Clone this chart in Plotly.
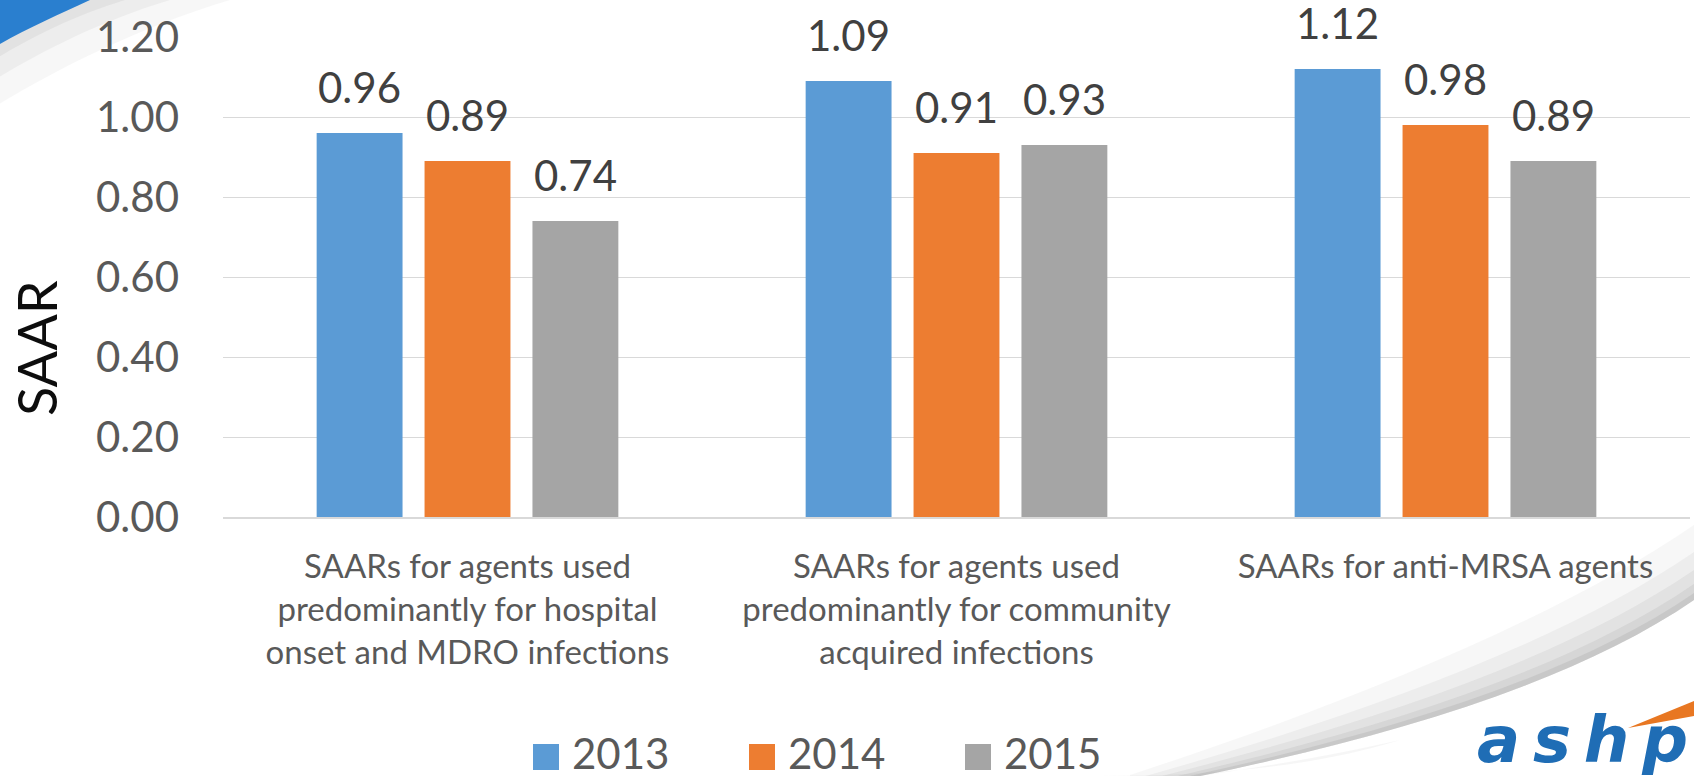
import plotly.graph_objects as go

# ---- data -------------------------------------------------------------
categories = [
    "SAARs for agents used<br>predominantly for hospital<br>onset and MDRO infections",
    "SAARs for agents used<br>predominantly for community<br>acquired infections",
    "SAARs for anti-MRSA agents",
]
years = ["2013", "2014", "2015"]
saar_2013 = [0.96, 1.09, 1.12]
saar_2014 = [0.89, 0.91, 0.98]
saar_2015 = [0.74, 0.93, 0.89]
y_ticks = [0.0, 0.2, 0.4, 0.6, 0.8, 1.0, 1.2]

series = [saar_2013, saar_2014, saar_2015]
colors = ["#5B9BD5", "#ED7D31", "#A5A5A5"]

# ---- geometry (pixels) ------------------------------------------------
W, H = 1694, 776
L, R, T, B = 223, 4, 37, 259
plot_w = W - L - R
plot_h = H - T - B
BARGAP = 0.338
GROUPGAP = 0.204
slot_px = plot_w / len(categories) * (1 - BARGAP) / len(series)

FONT = "Lato"
TXT = "#595959"


def px(x):
    return (x - L) / plot_w


def py(y):
    return (H - B - y) / plot_h


def P(x, y):
    return f"{px(x):.5f},{py(y):.5f}"


fig = go.Figure()
for name, vals, col in zip(years, series, colors):
    fig.add_trace(go.Bar(x=categories, y=vals, name=name, marker_color=col,
                         marker_line_width=0, showlegend=False))

annotations = []
# value labels above each bar
for i, (vals, col) in enumerate(zip(series, colors)):
    for cat, v in zip(categories, vals):
        annotations.append(dict(
            x=cat, y=v, xref="x", yref="y", text=f"{v:.2f}", showarrow=False,
            xanchor="center", yanchor="bottom", xshift=(i - 1) * slot_px, yshift=20,
            borderpad=0, font=dict(family=FONT, size=42, color="#404040")))

# axis title
annotations.append(dict(
    x=px(36), y=py(348), xref="paper", yref="paper", text="SAAR", textangle=-90,
    showarrow=False, xanchor="center", yanchor="middle",
    font=dict(family=FONT, size=54, color="#0D0D0D")))

shapes = []
# legend
leg_x = [533, 749, 965]
leg_y = 753
for x0, name, col in zip(leg_x, years, colors):
    shapes.append(dict(type="rect", xref="paper", yref="paper",
                       x0=px(x0), x1=px(x0 + 26), y0=py(leg_y + 17), y1=py(leg_y - 9),
                       fillcolor=col, line_width=0))
    annotations.append(dict(
        x=px(x0 + 38), y=py(leg_y), xref="paper", yref="paper", text=name,
        showarrow=False, xanchor="left", yanchor="middle", borderpad=0,
        font=dict(family=FONT, size=42, color=TXT)))

# slide decoration: blue swoosh top-left with soft shadow
for op, ext in [(0.08, 230), (0.10, 170), (0.13, 125)]:
    shapes.append(dict(
        type="path", xref="paper", yref="paper", layer="below",
        path=f"M{P(0, 0)} L{P(ext, 0)} C{P(ext * 0.6, ext * 0.12)} {P(ext * 0.25, ext * 0.3)} {P(0, ext * 0.45)} Z",
        fillcolor="#9E9E9E", opacity=op, line_width=0))
shapes.append(dict(
    type="path", xref="paper", yref="paper", layer="below",
    path=f"M{P(0, 0)} L{P(90, 0)} C{P(60, 14)} {P(28, 28)} {P(0, 44)} Z",
    fillcolor="#2A7FCF", line_width=0))

# slide decoration: page-curl shadow bottom-right
for op, off in [(0.07, 75), (0.09, 48), (0.11, 30), (0.14, 16), (0.18, 7)]:
    shapes.append(dict(
        type="path", xref="paper", yref="paper", layer="below",
        path=(f"M{P(1130, 790)} C{P(1350, 748)} {P(1560, 692)} {P(1694, 600)} "
              f"L{P(1694, 600 - off)} C{P(1560, 692 - off)} {P(1350, 748 - off * 0.6)} {P(1130, 790 - off * 0.2)} Z"),
        fillcolor="#8C8C8C", opacity=op, line_width=0))
# faint shade under the curve at its lower end
shapes.append(dict(
    type="path", xref="paper", yref="paper", layer="below",
    path=(f"M{P(1100, 776)} L{P(1100, 790)} C{P(1250, 770)} {P(1330, 756)} {P(1400, 740)} "
          f"C{P(1320, 765)} {P(1220, 776)} {P(1100, 776)} Z"),
    fillcolor="#8C8C8C", opacity=0.08, line_width=0))

# logo
shapes.append(dict(
    type="path", xref="paper", yref="paper",
    path=f"M{P(1628, 728)} L{P(1694, 701)} L{P(1694, 716)} Z",
    fillcolor="#E87722", line_width=0))
annotations.append(dict(
    x=px(1690), y=py(740), xref="paper", yref="paper",
    text="<b><i>a\u2009s\u2009h\u2009p</i></b>", showarrow=False, xanchor="right", yanchor="middle",
    font=dict(family="DejaVu Sans", size=64, color="#1F6DB5")))

fig.update_layout(
    width=W, height=H,
    margin=dict(l=L, r=R, t=T, b=B, autoexpand=False),
    paper_bgcolor="white", plot_bgcolor="white",
    barmode="group", bargap=BARGAP, bargroupgap=GROUPGAP,
    showlegend=False,
    annotations=annotations, shapes=shapes,
    xaxis=dict(
        showline=True, linecolor="#D9D9D9", linewidth=1.5, ticks="",
        tickfont=dict(family=FONT, size=33, color=TXT),
        ticklabelstandoff=20, showgrid=False, fixedrange=True,
    ),
    yaxis=dict(
        range=[0, 1.2], tickvals=y_ticks, tickformat=".2f",
        gridcolor="#D9D9D9", gridwidth=1.3, zeroline=False, showline=False,
        ticks="", tickfont=dict(family=FONT, size=42, color=TXT),
        ticklabelstandoff=43, fixedrange=True,
    ),
)

fig.write_html("out.html")
